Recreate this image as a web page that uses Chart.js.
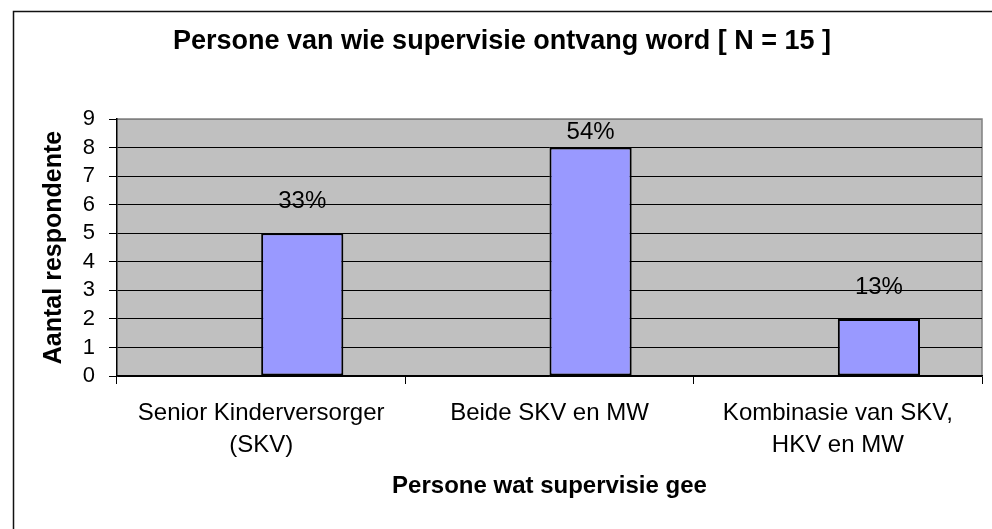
<!DOCTYPE html>
<html>
<head>
<meta charset="utf-8">
<script src="https://cdn.jsdelivr.net/npm/chart.js@4"></script>
<style>
  html, body { margin: 0; padding: 0; background: #fff; }
</style>
</head>
<body>
<canvas id="myChart" width="992" height="529"></canvas>
<script>
// data
var categories = [
  ["Senior Kinderversorger", "(SKV)"],
  ["Beide SKV en MW"],
  ["Kombinasie van SKV,", "HKV en MW"],
];
var respondents = [5, 8, 2];
var percentLabels = ["33%", "54%", "13%"];
var spacer = [null, null, null]; // empty first series, pushes the bars right of centre
var yMin = 0;
var yMax = 9;
var yStep = 1;

Chart.defaults.font.family = "'Liberation Sans', Arial, sans-serif";
Chart.defaults.color = "#000";

var plotBackground = {
  id: "plotBackground",
  beforeDraw: function (chart) {
    var ctx = chart.ctx;
    var a = chart.chartArea;
    ctx.save();
    ctx.fillStyle = "#fff";
    ctx.fillRect(0, 0, chart.width, chart.height);
    // outer frame
    ctx.strokeStyle = "#111";
    ctx.lineWidth = 1.5;
    ctx.strokeRect(13.5, 11.5, chart.width, chart.height);
    // plot area
    ctx.fillStyle = "#c0c0c0";
    ctx.fillRect(a.left, a.top, a.right - a.left, a.bottom - a.top);
    ctx.strokeStyle = "#808080";
    ctx.lineWidth = 1.5;
    ctx.beginPath();
    ctx.moveTo(a.left, a.top);
    ctx.lineTo(a.right, a.top);
    ctx.lineTo(a.right, a.bottom);
    ctx.stroke();
    ctx.restore();
  },
};

var barLabels = {
  id: "barLabels",
  afterDatasetsDraw: function (chart) {
    var ctx = chart.ctx;
    var meta = chart.getDatasetMeta(1);
    ctx.save();
    ctx.font = "24px 'Liberation Sans', Arial, sans-serif";
    ctx.fillStyle = "#000";
    ctx.textAlign = "center";
    ctx.textBaseline = "middle";
    meta.data.forEach(function (bar, i) {
      var y = Math.max(bar.y - 32, chart.chartArea.top + 13);
      ctx.fillText(percentLabels[i], bar.x, y);
    });
    ctx.restore();
  },
};

var ctx = document.getElementById("myChart").getContext("2d");
var myChart = new Chart(ctx, {
  type: "bar",
  data: {
    labels: categories,
    datasets: [
      {
        label: "",
        data: spacer,
        backgroundColor: "rgba(0,0,0,0)",
      },
      {
        label: "Aantal respondente",
        data: respondents,
        backgroundColor: "#9999ff",
        borderColor: "#000",
        borderWidth: 2,
        borderSkipped: false,
      },
    ],
  },
  options: {
    responsive: false,
    animation: false,
    categoryPercentage: 0.57,
    barPercentage: 1,
    layout: {
      padding: { left: 22, right: 10, top: 11, bottom: 20 },
    },
    plugins: {
      legend: { display: false },
      tooltip: { enabled: false },
      title: {
        display: true,
        text: "Persone van wie supervisie ontvang word [ N = 15 ]",
        color: "#000",
        font: { size: 27, weight: "bold" },
        padding: { top: 14, bottom: 61.6 },
      },
    },
    scales: {
      x: {
        afterFit: function (scale) {
          scale.height = 133;
        },
        grid: {
          display: true,
          drawOnChartArea: false,
          offset: true,
          tickLength: 8,
          color: "#000",
        },
        border: { color: "#000", width: 1.5 },
        ticks: {
          color: "#000",
          font: { size: 24, lineHeight: 1.33 },
          padding: 13,
          maxRotation: 0,
          autoSkip: false,
        },
        title: {
          display: true,
          text: "Persone wat supervisie gee",
          color: "#000",
          font: { size: 24, weight: "bold" },
          padding: { top: 11, bottom: 8 },
        },
      },
      y: {
        min: yMin,
        max: yMax,
        afterFit: function (scale) {
          scale.width = 95;
        },
        grid: {
          color: function (c) {
            return c.tick && c.tick.value === yMax ? "#808080" : "#000";
          },
          tickColor: "#000",
          tickLength: 8,
          lineWidth: 1,
        },
        border: { color: "#000", width: 1.5 },
        ticks: {
          stepSize: yStep,
          autoSkip: false,
          color: "#000",
          font: { size: 22 },
          padding: 14,
        },
        title: {
          display: true,
          text: "Aantal respondente",
          color: "#000",
          font: { size: 25, weight: "bold" },
          padding: { top: 17, bottom: 0 },
        },
      },
    },
  },
  plugins: [plotBackground, barLabels],
});
</script>
</body>
</html>
